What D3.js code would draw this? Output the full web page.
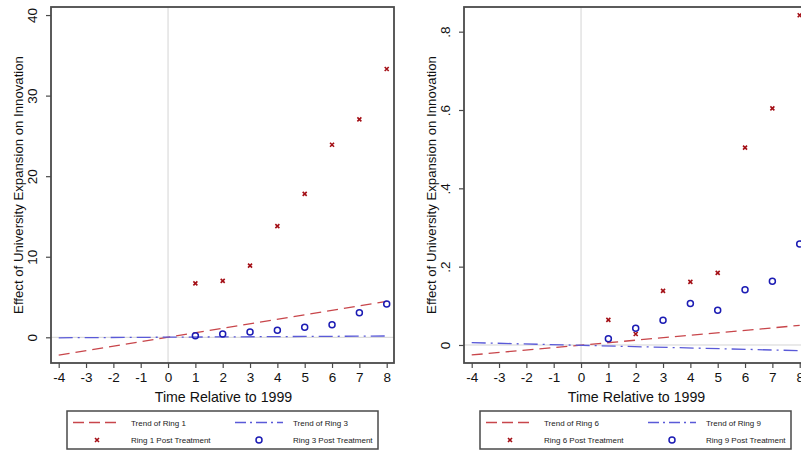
<!DOCTYPE html>
<html>
<head>
<meta charset="utf-8">
<script src="https://cdn.jsdelivr.net/npm/d3@7"></script>
<style>
  body { margin: 0; background: #fff; }
  svg { font-family: "Liberation Sans", Arial, sans-serif; display: block; }
</style>
</head>
<body>
<script>
// years relative to 1999
var years = [-4, -3, -2, -1, 0, 1, 2, 3, 4, 5, 6, 7, 8];
var postYears = [1, 2, 3, 4, 5, 6, 7, 8];

// panel A: rings 1 and 3
var ring1Post = [6.7, 7.0, 8.9, 13.8, 17.8, 23.9, 27.05, 33.3];
var ring3Post = [0.2, 0.4, 0.65, 0.87, 1.24, 1.56, 3.05, 4.13];
var ring1TrendEnds = [-2.22, 4.47];   // values at -4 and 8
var ring3TrendEnds = [-0.06, 0.16];
var yTicksA = [0, 10, 20, 30, 40];

// panel B: rings 6 and 9
var ring6Post = [0.064, 0.028, 0.138, 0.161, 0.184, 0.504, 0.604, 0.842];
var ring9Post = [0.016, 0.043, 0.063, 0.106, 0.089, 0.141, 0.163, 0.258];
var ring6TrendEnds = [-0.0255, 0.050];
var ring9TrendEnds = [0.006, -0.0145];
var yTicksB = [0, 0.2, 0.4, 0.6, 0.8];

var W = 801, H = 452;
var svg = d3.select("body").append("svg")
    .attr("width", W)
    .attr("height", H);

var redLine = "#c8464b", blueLine = "#5a5ad8";
var redMark = "#a40f16", blueMark = "#1c1cb4";
var frameCol = "#4a4a4a";

// stata style: plain hyphen, no leading zero
function fmtInt(v) { return String(v); }
function fmtB(v) {
  if (v === 0) return "0";
  return String(+v.toFixed(1)).replace("0.", ".");
}

function drawPanel(ox, cfg) {
  var g = svg.append("g").attr("transform", "translate(" + ox + ",0)");
  var left = 51, right = 394, top = 7, bottom = 363;

  var x = d3.scaleLinear().domain([-4, 8]).range([58.7, 386.7]);
  var y = d3.scaleLinear().domain(cfg.yDomain).range([bottom, top]);

  // reference lines at 0
  g.append("line")
      .attr("x1", left).attr("x2", right)
      .attr("y1", y(0)).attr("y2", y(0))
      .attr("stroke", "#d4d4d4").attr("stroke-width", 1);
  g.append("line")
      .attr("x1", x(0)).attr("x2", x(0))
      .attr("y1", top).attr("y2", bottom)
      .attr("stroke", "#d4d4d4").attr("stroke-width", 1);

  // trend lines
  var line = d3.line().x(function(d) { return x(d[0]); }).y(function(d) { return y(d[1]); });
  g.append("path")
      .datum([[-4, cfg.trendA[0]], [8, cfg.trendA[1]]])
      .attr("d", line)
      .attr("fill", "none")
      .attr("stroke", redLine).attr("stroke-width", 1.3)
      .attr("stroke-dasharray", "11,6");
  g.append("path")
      .datum([[-4, cfg.trendB[0]], [8, cfg.trendB[1]]])
      .attr("d", line)
      .attr("fill", "none")
      .attr("stroke", blueLine).attr("stroke-width", 1.3)
      .attr("stroke-dasharray", "14,5,2,5");

  // markers
  g.selectAll(".xm")
      .data(cfg.postA)
    .enter().append("path")
      .attr("class", "xm")
      .attr("transform", function(d, i) { return "translate(" + x(postYears[i]) + "," + y(d) + ")"; })
      .attr("d", "M-2,-2L2,2M-2,2L2,-2")
      .attr("stroke", redMark).attr("stroke-width", 1.6);
  g.selectAll(".om")
      .data(cfg.postB)
    .enter().append("circle")
      .attr("class", "om")
      .attr("cx", function(d, i) { return x(postYears[i]); })
      .attr("cy", function(d) { return y(d); })
      .attr("r", 3)
      .attr("fill", "none")
      .attr("stroke", blueMark).attr("stroke-width", 1.5);

  // frame
  g.append("rect")
      .attr("x", left).attr("y", top)
      .attr("width", right - left).attr("height", bottom - top)
      .attr("fill", "none")
      .attr("stroke", frameCol).attr("stroke-width", 1.8);

  // x axis
  var xAxis = d3.axisBottom(x).tickValues(years).tickSize(5).tickPadding(4)
      .tickFormat(fmtInt);
  var gx = g.append("g").attr("transform", "translate(0," + bottom + ")").call(xAxis);
  gx.select(".domain").remove();
  gx.selectAll(".tick line").attr("stroke", frameCol).attr("stroke-width", 1.2);
  gx.selectAll(".tick text").attr("font-size", 13.5).attr("fill", "#111")
      .attr("font-family", "Liberation Sans, Arial, sans-serif");

  // y axis
  var yAxis = d3.axisLeft(y).tickValues(cfg.yTicks).tickSize(5).tickPadding(0)
      .tickFormat(cfg.fmt);
  var gy = g.append("g").attr("transform", "translate(" + left + ",0)").call(yAxis);
  gy.select(".domain").remove();
  gy.selectAll(".tick line").attr("stroke", frameCol).attr("stroke-width", 1.2);
  gy.selectAll(".tick text")
      .attr("x", 0).attr("dy", null)
      .attr("transform", "translate(-14,0) rotate(-90)")
      .attr("text-anchor", "middle")
      .attr("font-size", 13.5).attr("fill", "#111")
      .attr("font-family", "Liberation Sans, Arial, sans-serif");

  // titles
  g.append("text")
      .attr("x", (left + right) / 2 + 1).attr("y", 402)
      .attr("text-anchor", "middle")
      .attr("font-size", 14.2).attr("fill", "#111")
      .text("Time Relative to 1999");
  g.append("text")
      .attr("transform", "translate(23," + ((top + bottom) / 2) + ") rotate(-90)")
      .attr("text-anchor", "middle")
      .attr("font-size", 13.2).attr("fill", "#111")
      .text("Effect of University Expansion on Innovation");

  // legend
  var lg = g.append("g");
  lg.append("rect")
      .attr("x", 67).attr("y", 411).attr("width", 311).attr("height", 38)
      .attr("fill", "#fff").attr("stroke", frameCol).attr("stroke-width", 1.5);
  lg.append("line").attr("x1", 73).attr("x2", 121).attr("y1", 422.5).attr("y2", 422.5)
      .attr("stroke", redLine).attr("stroke-width", 1.3).attr("stroke-dasharray", "11,5");
  lg.append("line").attr("x1", 235).attr("x2", 283).attr("y1", 422.5).attr("y2", 422.5)
      .attr("stroke", blueLine).attr("stroke-width", 1.3).attr("stroke-dasharray", "11,4,2,4");
  lg.append("path")
      .attr("transform", "translate(97,440)")
      .attr("d", "M-2,-2L2,2M-2,2L2,-2")
      .attr("stroke", redMark).attr("stroke-width", 1.6);
  lg.append("circle").attr("cx", 259).attr("cy", 440).attr("r", 3)
      .attr("fill", "none").attr("stroke", blueMark).attr("stroke-width", 1.5);
  var labels = [
    [131, 423, cfg.names[0]], [293, 423, cfg.names[1]],
    [131, 440.5, cfg.names[2]], [293, 440.5, cfg.names[3]]
  ];
  lg.selectAll(".lt")
      .data(labels)
    .enter().append("text")
      .attr("class", "lt")
      .attr("x", function(d) { return d[0]; })
      .attr("y", function(d) { return d[1]; })
      .attr("dy", "0.35em")
      .attr("font-size", 8).attr("fill", "#222")
      .text(function(d) { return d[2]; });
}

drawPanel(0, {
  yDomain: [-3.19, 41],
  yTicks: yTicksA,
  fmt: fmtInt,
  postA: ring1Post, postB: ring3Post,
  trendA: ring1TrendEnds, trendB: ring3TrendEnds,
  names: ["Trend of Ring 1", "Trend of Ring 3", "Ring 1 Post Treatment", "Ring 3 Post Treatment"]
});

drawPanel(413, {
  yDomain: [-0.046, 0.863],
  yTicks: yTicksB,
  fmt: fmtB,
  postA: ring6Post, postB: ring9Post,
  trendA: ring6TrendEnds, trendB: ring9TrendEnds,
  names: ["Trend of Ring 6", "Trend of Ring 9", "Ring 6 Post Treatment", "Ring 9 Post Treatment"]
});
</script>
</body>
</html>
